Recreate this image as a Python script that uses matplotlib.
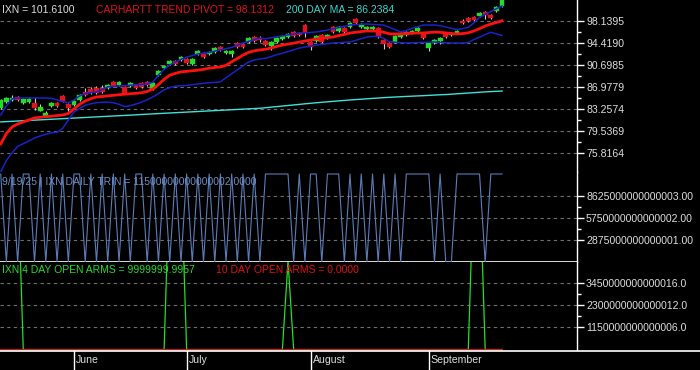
import matplotlib
matplotlib.use('Agg')
import matplotlib.pyplot as plt
import numpy as np
import pandas as pd
from matplotlib.lines import Line2D

plt.rcParams['font.family'] = ['Liberation Sans', 'DejaVu Sans']

# ---------------- data ----------------
dates = pd.bdate_range('2025-05-13', '2025-09-19', freq='C',
                       holidays=['2025-05-26', '2025-06-19', '2025-07-04', '2025-09-01'])

opens = [83.38, 84.39, 84.73, 85.24, 84.22, 84.39, 84.22, 82.87, 82.02, 83.71,
         84.22, 85.41, 84.05, 83.88, 84.73, 86.08, 86.59, 86.76, 86.76, 86.76,
         87.77, 87.27, 86.93, 87.10, 87.27, 87.60, 87.77, 86.59, 88.96, 90.14,
         90.82, 91.32, 91.49, 91.66, 90.82, 92.51, 92.68, 92.51, 92.85, 93.69,
         92.68, 92.51, 94.37, 94.20, 94.54, 95.38, 95.05, 94.71, 93.86, 94.54,
         95.05, 95.38, 96.23, 96.06, 97.41, 94.54, 94.71, 95.72, 95.21, 97.07,
         96.40, 96.91, 97.07, 98.43, 97.07, 96.74, 96.74, 96.91, 94.88, 94.37,
         94.54, 95.38, 95.72, 96.06, 96.40, 96.06, 93.52, 94.37, 94.71, 96.06,
         95.72, 96.06, 98.09, 98.60, 98.77, 98.93, 99.61, 99.10, 99.78, 100.63]
closes = [84.73, 85.07, 85.07, 84.73, 84.90, 84.90, 83.38, 83.55, 82.53, 84.22,
          83.71, 84.56, 83.38, 84.56, 85.58, 85.58, 85.91, 85.91, 86.08, 87.27,
          87.10, 87.77, 85.91, 87.60, 86.76, 86.93, 87.27, 87.60, 89.63, 90.48,
          91.32, 90.82, 92.00, 90.99, 91.66, 93.02, 92.00, 92.85, 93.52, 93.19,
          93.02, 93.02, 93.69, 93.69, 95.21, 94.71, 94.88, 94.03, 94.54, 95.21,
          95.55, 95.89, 95.55, 95.72, 96.06, 93.69, 95.55, 94.54, 95.72, 96.23,
          97.07, 96.23, 97.75, 97.75, 97.41, 97.07, 97.07, 95.38, 94.20, 93.69,
          95.55, 96.06, 96.23, 96.40, 96.91, 95.21, 94.37, 94.88, 95.21, 95.38,
          96.06, 96.40, 97.75, 98.09, 98.26, 99.44, 99.10, 98.60, 100.46, 101.61]
highs = [84.90, 85.30, 85.60, 85.45, 85.10, 85.20, 85.24, 84.00, 82.90, 84.40,
         84.40, 85.55, 84.20, 84.70, 85.70, 86.75, 86.95, 87.10, 87.20, 87.40,
         87.95, 87.90, 87.05, 87.75, 87.45, 87.80, 88.00, 87.75, 89.75, 90.60,
         91.50, 91.55, 92.15, 91.80, 91.80, 93.20, 92.85, 93.00, 93.65, 93.85,
         93.15, 93.20, 94.55, 94.35, 95.35, 95.55, 95.55, 94.85, 94.65, 95.35,
         95.70, 96.00, 96.40, 96.20, 97.60, 94.70, 95.70, 95.85, 95.85, 97.20,
         97.20, 97.05, 97.90, 98.60, 97.70, 97.20, 97.25, 97.05, 95.00, 94.50,
         95.70, 96.20, 96.35, 96.55, 97.05, 96.20, 94.50, 95.05, 95.35, 96.25,
         96.20, 96.60, 98.40, 98.75, 98.90, 99.60, 99.75, 99.25, 100.60, 101.75]
lows = [83.20, 84.20, 84.60, 84.60, 84.10, 84.30, 83.04, 82.80, 81.90, 83.60,
        83.50, 84.40, 82.95, 83.75, 84.60, 85.45, 85.80, 85.80, 85.95, 86.65,
        86.95, 87.15, 85.80, 86.95, 86.60, 86.80, 87.10, 86.45, 88.85, 90.00,
        90.70, 90.70, 91.35, 90.85, 90.70, 92.40, 91.85, 92.40, 92.70, 93.05,
        92.55, 92.05, 93.55, 93.55, 94.40, 94.60, 94.60, 93.90, 93.20, 94.40,
        94.95, 95.25, 95.40, 95.60, 95.45, 93.20, 94.60, 94.40, 95.10, 96.10,
        96.30, 96.10, 96.95, 97.60, 96.95, 96.60, 96.60, 95.25, 93.35, 93.55,
        94.40, 95.25, 95.60, 95.90, 96.30, 95.10, 93.00, 94.20, 94.20, 95.20,
        95.60, 95.95, 97.60, 97.95, 98.10, 98.80, 98.40, 98.45, 99.65, 100.50]

trend_pivot = [77.29, 79.06, 80.16, 80.67, 81.01, 81.35, 81.69, 81.80, 81.89, 81.99,
               82.09, 82.19, 82.45, 83.21, 84.00, 84.56, 84.95, 85.24, 85.32, 85.42,
               85.52, 85.61, 85.71, 85.79, 85.86, 85.96, 86.17, 86.59, 87.35, 88.21,
               88.92, 89.23, 89.48, 89.58, 89.67, 89.77, 89.92, 90.11, 90.23, 90.31,
               90.60, 91.19, 91.73, 92.32, 92.78, 93.05, 93.19, 93.32, 93.52, 93.78,
               94.01, 94.18, 94.35, 94.52, 94.71, 94.86, 95.05, 95.15, 95.27, 95.38,
               95.62, 95.82, 96.06, 96.18, 96.30, 96.40, 96.40, 96.36, 96.19, 95.92,
               95.89, 95.89, 95.96, 96.01, 96.06, 96.06, 96.14, 96.21, 96.18, 96.08,
               95.97, 95.89, 95.96, 96.09, 96.40, 96.80, 97.24, 97.58, 97.84, 98.13]
upper_band = [82.19, 83.72, 84.90, 85.07, 85.07, 85.07, 85.07, 85.07, 85.07, 85.00,
              84.73, 84.44, 84.27, 84.73, 85.41, 85.80, 85.98, 86.08, 86.49, 86.95,
              87.01, 87.10, 87.17, 87.23, 87.30, 87.37, 87.45, 87.74, 88.96, 89.89,
              90.63, 91.16, 91.60, 91.98, 92.25, 92.51, 92.63, 92.78, 92.98, 93.20,
              93.42, 93.62, 93.98, 94.37, 94.64, 94.94, 95.21, 95.08, 95.25, 95.42,
              95.55, 95.74, 95.87, 96.06, 96.09, 96.14, 96.23, 96.38, 96.55, 96.74,
              96.97, 97.19, 97.41, 97.48, 97.53, 97.58, 97.51, 97.45, 97.38, 97.02,
              96.63, 96.26, 96.47, 96.84, 97.13, 97.41, 97.41, 97.41, 97.29, 97.07,
              96.85, 96.67, 96.79, 97.02, 97.75, 98.70, 99.20, 99.70, 100.17, 100.63]
lower_band = [72.55, 74.50, 75.77, 76.87, 77.34, 77.80, 78.30, 78.64, 78.93, 79.17,
              79.27, 79.93, 81.35, 82.70, 83.28, 83.82, 84.10, 84.26, 84.34, 84.37,
              84.27, 83.99, 83.61, 83.78, 84.04, 84.37, 84.78, 85.25, 85.80, 86.44,
              86.83, 87.06, 87.13, 87.20, 87.32, 87.42, 87.54, 87.64, 87.71, 87.82,
              88.50, 89.16, 89.84, 90.50, 91.16, 91.48, 91.66, 91.78, 92.07, 92.39,
              92.64, 92.91, 93.20, 93.51, 93.68, 93.84, 94.01, 94.13, 94.25, 94.37,
              94.42, 94.49, 94.54, 94.81, 95.10, 95.38, 95.48, 95.48, 95.16, 94.59,
              94.49, 94.44, 94.37, 94.40, 94.44, 94.47, 94.50, 94.54, 94.47, 94.42,
              94.37, 94.37, 94.37, 94.45, 94.96, 95.35, 95.79, 96.18, 95.91, 95.64]
ma200 = [81.02, 81.07, 81.12, 81.17, 81.22, 81.27, 81.32, 81.37, 81.42, 81.47,
         81.52, 81.57, 81.62, 81.67, 81.72, 81.77, 81.82, 81.87, 81.92, 81.97,
         82.02, 82.07, 82.12, 82.17, 82.22, 82.28, 82.33, 82.38, 82.43, 82.48,
         82.53, 82.58, 82.63, 82.68, 82.73, 82.78, 82.83, 82.88, 82.93, 82.98,
         83.03, 83.08, 83.13, 83.18, 83.23, 83.28, 83.33, 83.42, 83.52, 83.61,
         83.71, 83.80, 83.89, 83.98, 84.08, 84.17, 84.26, 84.34, 84.42, 84.50,
         84.58, 84.65, 84.73, 84.80, 84.86, 84.93, 85.00, 85.06, 85.13, 85.18,
         85.23, 85.28, 85.33, 85.37, 85.42, 85.46, 85.51, 85.56, 85.61, 85.65,
         85.71, 85.78, 85.84, 85.91, 85.97, 86.04, 86.10, 86.15, 86.20, 86.24]

HI = 1.15e16
trin = [HI, 1, HI, 1, HI, HI, 1, HI, 1, HI,
        1, HI, 1, HI, HI, 1, HI, 1, HI, 1,
        HI, 1, HI, 1, HI, HI, 1, HI, 1, HI,
        1, HI, 1, HI, 1, HI, 1, HI, 1, HI,
        1, HI, 1, HI, 1, HI, 1, HI, HI, HI,
        HI, HI, 1, HI, 1, HI, HI, 1, HI, HI,
        HI, 1, HI, 1, HI, 1, HI, 1, HI, 1,
        HI, 1, HI, HI, HI, HI, HI, 1, HI, 1,
        1, HI, HI, HI, HI, HI, 1, HI, HI, HI]

SP = 9.2e15
arms4 = [SP, SP, SP, SP, 0, 0, 0, 0, 0, 0,
         0, 0, 0, 0, 0, 0, 0, 0, 0, 0,
         0, 0, 0, 0, 0, 0, 0, 0, 0, 0,
         SP, SP, SP, 0, 0, 0, 0, 0, 0, 0,
         0, 0, 0, 0, 0, 0, 0, 0, 0, 0,
         0, 4.6e15, 0, 0, 0, 0, 0, 0, 0, 0,
         0, 0, 0, 0, 0, 0, 0, 0, 0, 0,
         0, 0, 0, 0, 0, 0, 0, 0, 0, 0,
         0, 0, 0, 0, SP, SP, 0, 0, 0, 0]
arms10 = [0.0] * 90

price_ticks = [98.1395, 94.4190, 90.6985, 86.9779, 83.2574, 79.5369, 75.8164]
trin_ticks = [8625000000000003.0, 5750000000000002.0, 2875000000000001.0]
trin_tick_labels = ['8625000000000003.00', '5750000000000002.00', '2875000000000001.00']
arms_ticks = [3450000000000016.0, 2300000000000012.0, 1150000000000006.0]
arms_tick_labels = ['3450000000000016.0', '2300000000000012.0', '1150000000000006.0']
month_names = ['June', 'July', 'August', 'September']

# ---------------- figure ----------------
W, H = 700, 370
fig = plt.figure(figsize=(W / 100, H / 100), dpi=100, facecolor='black')
right = 577 / W
ax1 = fig.add_axes([0, 1 - 172 / H, right, 172 / H])
ax2 = fig.add_axes([0, 1 - 262 / H, right, 90 / H])
ax3 = fig.add_axes([0, 1 - 349.5 / H, right, 87.5 / H])

x = np.arange(len(dates))
XMIN, XMAX = -0.13, 102.3
TXT = '#dcdcdc'
GRID = '#6e6e6e'


def style(ax, ticks, labels):
    ax.set_facecolor('black')
    ax.set_xlim(XMIN, XMAX)
    for s in ['top', 'left', 'bottom']:
        ax.spines[s].set_visible(False)
    ax.spines['right'].set_color('white')
    ax.spines['right'].set_linewidth(1.0)
    ax.yaxis.tick_right()
    ax.set_yticks(ticks)
    ax.set_yticklabels(labels)
    mids = [(ticks[i] + ticks[i + 1]) / 2 for i in range(len(ticks) - 1)]
    ax.set_yticks(mids, minor=True)
    ax.tick_params(axis='y', which='major', colors='white', labelcolor=TXT,
                   length=5, width=1, labelsize=7.6, pad=1.5)
    ax.tick_params(axis='y', which='minor', colors='white', length=3, width=1)
    ax.tick_params(axis='x', which='both', bottom=False, labelbottom=False)
    ax.grid(axis='y', which='major', color=GRID, linestyle=(0, (3, 3)), linewidth=0.8)
    ax.set_axisbelow(True)


# price panel
style(ax1, price_ticks, ['%.4f' % t for t in price_ticks])
ax1.set_ylim(72.55, 101.64)
for i in range(len(x)):
    o, c = opens[i], closes[i]
    col = '#22dd22' if c >= o else '#dd1520'
    ax1.vlines(x[i], lows[i], highs[i], color='#d0d0d0', lw=0.8, zorder=2)
    ax1.bar(x[i], max(abs(c - o), 0.25), bottom=min(o, c), width=0.85, color=col,
            edgecolor=col, linewidth=0.3, zorder=3)
ax1.plot(x, ma200, color='#40e0d8', lw=1.0, zorder=4)
ax1.plot(x, upper_band, color='#1a22c8', lw=1.1, zorder=4)
ax1.plot(x, lower_band, color='#1a22c8', lw=1.1, zorder=4)
ax1.plot(x, trend_pivot, color='#ff1010', lw=2.0, zorder=5)

fs = 7.5
ax1.text(2 / 577, 1 - 10 / 172, 'IXN = 101.6100', transform=ax1.transAxes,
         color=TXT, fontsize=fs, va='center', ha='left', zorder=6)
ax1.text(96 / 577, 1 - 10 / 172, 'CARHARTT TREND PIVOT = 98.1312', transform=ax1.transAxes,
         color='#e01020', fontsize=fs, va='center', ha='left', zorder=6)
ax1.text(286 / 577, 1 - 10 / 172, '200 DAY MA = 86.2384', transform=ax1.transAxes,
         color='#30d8d0', fontsize=fs, va='center', ha='left', zorder=6)

# TRIN panel
style(ax2, trin_ticks, trin_tick_labels)
ax2.set_ylim(0, 1.176e16)
ax2.spines['bottom'].set_visible(True)
ax2.spines['bottom'].set_color('white')
ax2.spines['bottom'].set_linewidth(1.2)
ax2.plot(x, trin, color='#5b7cb8', lw=0.8, zorder=3)
ax2.text(2 / 577, 1 - 10 / 90, '9/19/25 | IXN DAILY TRIN = 11500000000000002.0000',
         transform=ax2.transAxes, color='#6f8cc0', fontsize=fs, va='center', ha='left', zorder=6)

# ARMS panel
style(ax3, arms_ticks, arms_tick_labels)
ax3.set_ylim(0, 4.56e15)
ax3.plot(x, arms4, color='#22e022', lw=0.9, zorder=3)
ax3.plot(x, arms10, color='#e01010', lw=1.3, zorder=4, clip_on=False)
ax3.text(2 / 577, 1 - 8 / 87.5, 'IXN 4 DAY OPEN ARMS = 9999999.9957',
         transform=ax3.transAxes, color='#22dd22', fontsize=fs, va='center', ha='left', zorder=6)
ax3.text(216 / 577, 1 - 8 / 87.5, '10 DAY OPEN ARMS = 0.0000',
         transform=ax3.transAxes, color='#e01010', fontsize=fs, va='center', ha='left', zorder=6)

# date axis
fig.add_artist(Line2D([0, 1], [1 - 351 / H] * 2, color='white', lw=1.2,
                      transform=fig.transFigure))
trans = ax3.get_xaxis_transform()
months = pd.Series(dates.month)
for name, m in zip(month_names, [6, 7, 8, 9]):
    idx = int(np.where(months.values == m)[0][0])
    ax3.plot([idx, idx], [-1.5 / 87.5, -21 / 87.5], color='white', lw=1.0,
             transform=trans, clip_on=False)
    ax3.text(idx + 0.35, -10.5 / 87.5, name, transform=trans, color=TXT,
             fontsize=7.6, va='center', ha='left')

fig.savefig('out.png', dpi=100, facecolor='black')
